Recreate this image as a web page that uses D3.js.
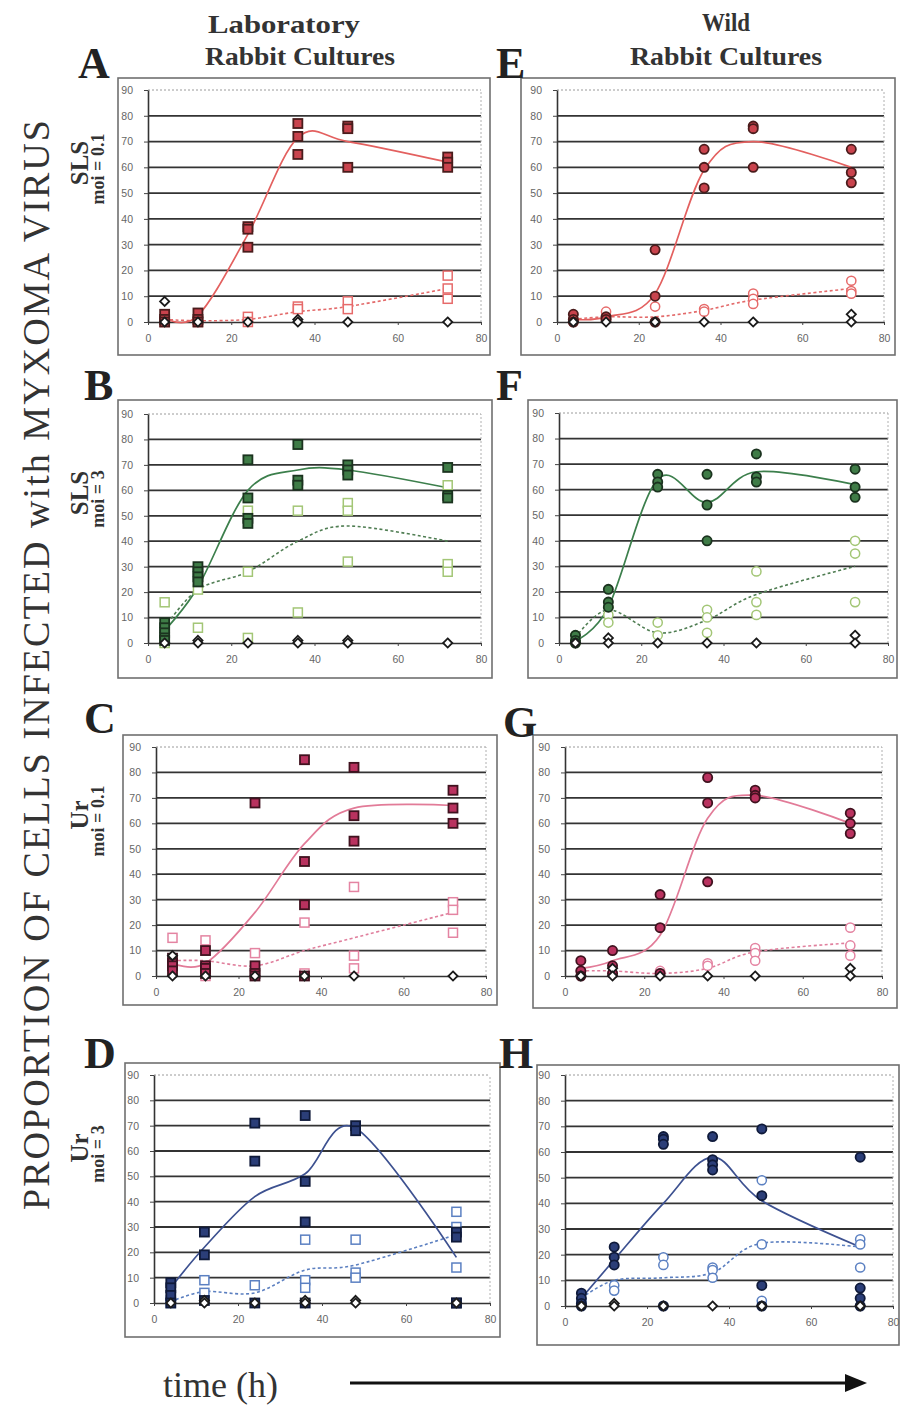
<!DOCTYPE html>
<html>
<head>
<meta charset="utf-8">
<script src="https://cdnjs.cloudflare.com/ajax/libs/d3/7.8.5/d3.min.js"></script>
<style>
  body{margin:0;background:#fff}
  .tick text{font-family:"Liberation Sans",Arial,sans-serif;font-size:10.5px;fill:#666}
</style>
</head>
<body>
<svg id="fig"></svg>
<script>
var width=901, height=1405;

// sampling times (h) and axis ticks
var times=[4,12,24,36,48,72];
var xTicks=[0,20,40,60,80];
var yTicks=[0,10,20,30,40,50,60,70,80,90];

// A : laboratory, SLS, moi 0.1
var aFilled=[[3,1,0],[3.5,1,0],[37,36,29],[77,72,65],[76,75,60],[64,62,60]];
var aOpen=[[1,0],[0],[2,0],[6,5],[8,5],[18,13,9]];
var aCtrl=[[8,0],[0],[0],[1,0],[0],[0]];
var aLine=[1.5,2.5,34,71.5,70,62];
var aDash=[1,0.5,1,4,6,13];

// E : wild, SLS, moi 0.1
var eFilled=[[3,1,0],[2,1],[28,10,0],[67,60,52],[76,75,60],[67,58,54]];
var eOpen=[[1,0],[4,1],[6],[5,4],[11,9,7],[16,12,11]];
var eCtrl=[[0],[0],[0],[0],[0],[3,0]];
var eLine=[1,2,11,59,70,60];
var eDash=[1,2,2,4.5,8.5,13];

// B : laboratory, SLS, moi 3
var bFilled=[[8,6,4,2,1],[30,28,26,24],[72,57,49,47],[78,64,62],[70,68,66],[69,58,57]];
var bOpen=[[16,0],[21,6],[52,28,2],[52,12],[55,52,32],[62,31,28]];
var bCtrl=[[0],[1,0],[0],[1,0],[1,0],[0]];
var bLine=[5,22,60,68,68,61];
var bDash=[6,21,28,40,46,40];

// F : wild, SLS, moi 3
var fFilled=[[3,1,0],[21,16,14],[66,63,61],[66,54,40],[74,65,63],[68,61,57]];
var fOpen=[[3,0],[14,11,8],[8,3],[13,10,4],[28,16,11],[40,35,16]];
var fCtrl=[[0],[2,0],[0],[0],[0],[3,0]];
var fLine=[1,14,64,55,67,62];
var fDash=[2,13,4,9,19,30];

// C : laboratory, Ur, moi 0.1
var cFilled=[[7,5,4,2],[10,4,3,1],[68,4,1,0],[85,45,28,0],[82,63,53],[73,66,60]];
var cOpen=[[15],[14,0],[9],[21,1],[35,8,3],[29,26,17]];
var cCtrl=[[8,0],[0],[0],[0],[0],[0]];
var cLine=[5,5,25,52,66,67];
var cDash=[6,6,4,10,15,25];

// G : wild, Ur, moi 0.1
var gFilled=[[6,2,0],[10,4,1],[32,19,1],[78,68,37],[73,71,70],[64,60,56]];
var gOpen=[[2],[1],[2,1],[5,4],[11,9,6],[19,12,8]];
var gCtrl=[[0],[3,0],[0],[0],[0],[3,0]];
var gLine=[3,6,16,62,71,60];
var gDash=[2,2,1,3,9.5,13];

// D : laboratory, Ur, moi 3
var dFilled=[[8,6,3,0],[28,19,1],[71,56,0],[74,48,32,0],[70,68],[28,26,0,0]];
var dOpen=[[1,0],[9,4],[7],[25,9,6],[25,12,10],[36,30,14]];
var dCtrl=[[0],[1,0],[0],[1,0],[1,0],[0]];
var dLine=[6,22,42,51,69,18];
var dDash=[0.5,4.5,4,13,15,27];

// H : wild, Ur, moi 3
var hFilled=[[5,3,1,0],[23,19,16],[66,65,63,0],[66,57,55,53],[69,43,8,0],[58,7,3,0]];
var hOpen=[[2],[8,6],[19,16],[15,14,11],[49,24,2],[26,24,15]];
var hCtrl=[[0],[1,0],[0],[0],[0],[0]];
var hLine=[3,18,40,58,41,23];
var hDash=[3,10,11,13,24.5,23];

// colour sets
var red={fill:'#c9434d',edge:'#4a1c1c',line:'#e3605f',open:'#e66a6a',dash:'#e36a6a'};
var green={fill:'#3f7c47',edge:'#1b331f',line:'#3c7f4c',open:'#a3c676',dash:'#4f7d52'};
var crimson={fill:'#b9325f',edge:'#40121f',line:'#e27b98',open:'#e484a2',dash:'#e07f9d'};
var navy={fill:'#2b3e78',edge:'#0f1a3a',line:'#3d5190',open:'#5b80c2',dash:'#5b7fc0'};

var panels=[
  {key:'A',filled:aFilled,open:aOpen,ctrl:aCtrl,line:aLine,dash:aDash,shape:'square',col:red,frame:[118,78,490,355],xr:[148,481],yr:[322,90]},
  {key:'E',filled:eFilled,open:eOpen,ctrl:eCtrl,line:eLine,dash:eDash,shape:'circle',col:red,frame:[521,78,895,355],xr:[557,884],yr:[322,90]},
  {key:'B',filled:bFilled,open:bOpen,ctrl:bCtrl,line:bLine,dash:bDash,shape:'square',col:green,frame:[118,400,492,678],xr:[148,481],yr:[643,414]},
  {key:'F',filled:fFilled,open:fOpen,ctrl:fCtrl,line:fLine,dash:fDash,shape:'circle',col:green,frame:[528,400,897,678],xr:[559,888],yr:[643,413]},
  {key:'C',filled:cFilled,open:cOpen,ctrl:cCtrl,line:cLine,dash:cDash,shape:'square',col:crimson,frame:[123,735,497,1005],xr:[156,486],yr:[976,747]},
  {key:'G',filled:gFilled,open:gOpen,ctrl:gCtrl,line:gLine,dash:gDash,shape:'circle',col:crimson,frame:[533,735,897,1008],xr:[565,882],yr:[976,747]},
  {key:'D',filled:dFilled,open:dOpen,ctrl:dCtrl,line:dLine,dash:dDash,shape:'square',col:navy,frame:[125,1063,500,1337],xr:[154,490],yr:[1303,1075]},
  {key:'H',filled:hFilled,open:hOpen,ctrl:hCtrl,line:hLine,dash:hDash,shape:'circle',col:navy,frame:[537,1065,899,1345],xr:[565,893],yr:[1306,1075]}
];

var svg=d3.select('#fig').attr('width',width).attr('height',height);
svg.append('rect').attr('width',width).attr('height',height).attr('fill','#fff');

// turn [[v,v],[v]...] into {t,v} points
function flat(arr){
  var out=[];
  arr.forEach(function(vals,i){
    vals.forEach(function(v){ out.push({t:times[i],v:v}); });
  });
  return out;
}
function series(arr){
  return arr.map(function(v,i){ return {t:times[i],v:v}; });
}

function drawPanel(p){
  var f=p.frame;
  var g=svg.append('g').attr('class','panel-'+p.key);
  g.append('rect').attr('x',f[0]).attr('y',f[1]).attr('width',f[2]-f[0]).attr('height',f[3]-f[1])
    .attr('fill','#fff').attr('stroke','#707070').attr('stroke-width',1.6);

  var x=d3.scaleLinear().domain([0,80]).range(p.xr);
  var y=d3.scaleLinear().domain([0,90]).range(p.yr);

  // gridlines
  g.selectAll('.grid').data(yTicks.filter(function(d){return d>0 && d<90;})).enter()
    .append('line').attr('x1',x(0)).attr('x2',x(80)).attr('y1',function(d){return y(d);}).attr('y2',function(d){return y(d);})
    .attr('stroke','#333').attr('stroke-width',1.8);
  g.append('line').attr('x1',x(0)).attr('x2',x(80)).attr('y1',y(90)).attr('y2',y(90))
    .attr('stroke','#9a9a9a').attr('stroke-width',1).attr('stroke-dasharray','2,2');
  g.append('line').attr('x1',x(80)).attr('x2',x(80)).attr('y1',y(0)).attr('y2',y(90))
    .attr('stroke','#b0b0b0').attr('stroke-width',1).attr('stroke-dasharray','2,2');

  // axes
  var ya=g.append('g').attr('transform','translate('+x(0)+',0)')
    .call(d3.axisLeft(y).tickValues(yTicks).tickSize(4).tickSizeOuter(0).tickPadding(11));
  var xa=g.append('g').attr('transform','translate(0,'+y(0)+')')
    .call(d3.axisBottom(x).tickValues(xTicks).tickSize(3).tickSizeOuter(0).tickPadding(10));
  [ya,xa].forEach(function(a){
    a.select('.domain').attr('stroke','#333').attr('stroke-width',1.6);
    a.selectAll('.tick line').attr('stroke','#444');
  });

  // trend lines (smoothed like the spreadsheet)
  var line=d3.line().x(function(d){return x(d.t);}).y(function(d){return y(d.v);})
    .curve(d3.curveCardinal.tension(0));
  g.append('path').attr('d',line(series(p.dash))).attr('fill','none')
    .attr('stroke',p.col.dash).attr('stroke-width',1.6).attr('stroke-dasharray','3,2.5');
  g.append('path').attr('d',line(series(p.line))).attr('fill','none')
    .attr('stroke',p.col.line).attr('stroke-width',1.7);

  // markers
  function marks(data,fill,stroke,sw){
    var sel=g.append('g').selectAll('.m').data(data).enter();
    if(p.shape==='square'){
      sel.append('rect').attr('x',function(d){return x(d.t)-4.5;}).attr('y',function(d){return y(d.v)-4.5;})
        .attr('width',9).attr('height',9).attr('fill',fill).attr('stroke',stroke).attr('stroke-width',sw);
    } else {
      sel.append('circle').attr('cx',function(d){return x(d.t);}).attr('cy',function(d){return y(d.v);})
        .attr('r',4.6).attr('fill',fill).attr('stroke',stroke).attr('stroke-width',sw);
    }
  }
  marks(flat(p.open),'#fff',p.col.open,1.5);
  marks(flat(p.filled),p.col.fill,p.col.edge,1.8);

  // control series: small open diamonds
  g.append('g').selectAll('path').data(flat(p.ctrl)).enter().append('path')
    .attr('d','M0,-4.6L4.6,0L0,4.6L-4.6,0Z')
    .attr('transform',function(d){return 'translate('+x(d.t)+','+y(d.v)+')';})
    .attr('fill','#fff').attr('stroke','#1a1a1a').attr('stroke-width',1.8);
}
panels.forEach(drawPanel);

// panel letters
var letterPos={A:[78,78],E:[496,78],B:[84,400],F:[496,400],C:[84,733],G:[503,737],D:[84,1068],H:[499,1068]};
Object.keys(letterPos).forEach(function(k){
  svg.append('text').attr('x',letterPos[k][0]).attr('y',letterPos[k][1]).text(k)
    .attr('font-family','"Liberation Serif","Times New Roman",serif').attr('font-weight','bold')
    .attr('font-size',44).attr('fill','#222');
});

// column headings
var serif='"Liberation Serif","Times New Roman",serif';
function head(txt,cx,by,len){
  svg.append('text').attr('x',cx).attr('y',by).attr('text-anchor','middle').text(txt)
    .attr('font-family',serif).attr('font-weight','bold').attr('font-size',26).attr('fill','#333')
    .attr('textLength',len).attr('lengthAdjust','spacingAndGlyphs');
}
head('Laboratory',284,33,152);
head('Rabbit Cultures',300,65,190);
head('Wild',726,31,48);
head('Rabbit Cultures',726,65,192);

// left labels
svg.append('text').attr('transform','translate(49,665) rotate(-90)').attr('text-anchor','middle')
  .text('PROPORTION OF CELLS INFECTED with MYXOMA VIRUS')
  .attr('font-family',serif).attr('font-size',38).attr('fill','#333')
  .attr('textLength',1090).attr('lengthAdjust','spacing');

var rowLabels=[
  {name:'SLS',moi:'moi = 0.1',cy:163},
  {name:'SLS',moi:'moi = 3',cy:493},
  {name:'Ur',moi:'moi = 0.1',cy:815},
  {name:'Ur',moi:'moi = 3',cy:1148}
];
rowLabels.forEach(function(r){
  svg.append('text').attr('transform','translate(88,'+r.cy+') rotate(-90)').attr('text-anchor','middle')
    .text(r.name).attr('font-family',serif).attr('font-weight','bold').attr('font-size',25).attr('fill','#333');
  svg.append('text').attr('transform','translate(104,'+(r.cy+6)+') rotate(-90)').attr('text-anchor','middle')
    .text(r.moi).attr('font-family',serif).attr('font-weight','bold').attr('font-size',18).attr('fill','#333');
});

// time axis caption with arrow
svg.append('text').attr('x',163).attr('y',1397).text('time (h)')
  .attr('font-family',serif).attr('font-size',36).attr('fill','#333');
svg.append('line').attr('x1',350).attr('x2',848).attr('y1',1383).attr('y2',1383)
  .attr('stroke','#111').attr('stroke-width',3);
svg.append('path').attr('d','M845,1374 L867,1383 L845,1392 Z').attr('fill','#111');
</script>
</body>
</html>
